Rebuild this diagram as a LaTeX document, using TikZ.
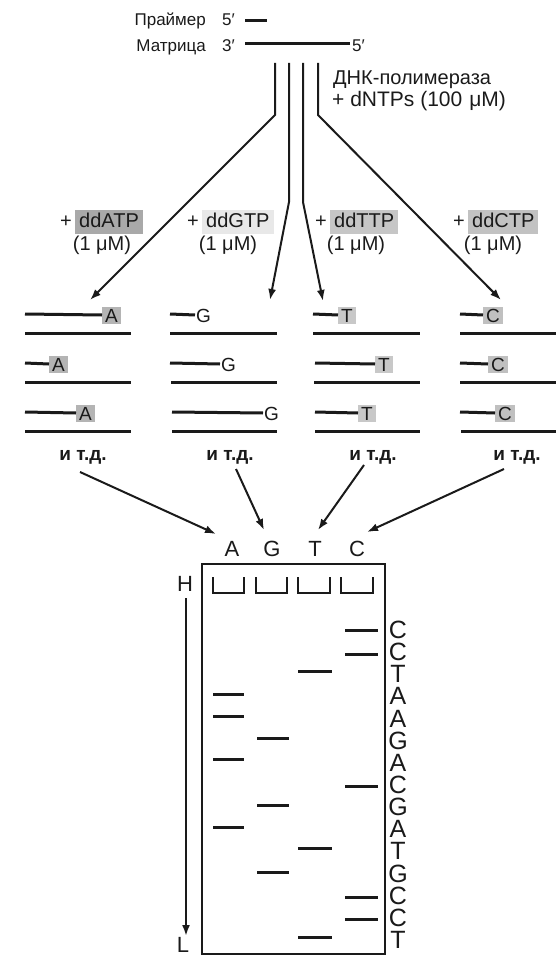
\documentclass[tikz,border=0pt]{standalone}
\usepackage{fontspec}
\setmainfont{Liberation Sans}
\usetikzlibrary{arrows.meta}
\definecolor{hlA}{HTML}{A9A9A9}
\definecolor{hlG}{HTML}{E8E8E8}
\definecolor{hlT}{HTML}{C6C6C6}
\definecolor{hlC}{HTML}{C2C2C2}
\definecolor{bxA}{HTML}{B4B4B4}
\definecolor{bxT}{HTML}{C8C8C8}
\definecolor{bxC}{HTML}{C0C0C0}
\definecolor{ink}{HTML}{1A1A1A}
\newcommand\myfs[1]{\fontsize{#1}{#1}\selectfont}
\begin{document}
\begin{tikzpicture}[x=1pt,y=-1pt,
  every node/.style={inner sep=0pt,text=ink},
  strand/.style={line width=3pt,ink},
  arr/.style={line width=2pt,ink,line join=miter,-{Latex[length=11pt,width=8pt]}},
  toptxt/.style={font=\myfs{17}},
  labtxt/.style={font=\myfs{20}},
  ddbox/.style={font=\myfs{20},inner xsep=4pt,inner ysep=3pt,text height=15pt,text depth=3pt},
  letbox/.style={font=\myfs{19},anchor=west,inner xsep=3pt,inner ysep=1.5pt,text height=14pt,text depth=0pt},
  etc/.style={font=\myfs{19}\bfseries,anchor=base},
  gellet/.style={font=\myfs{22},anchor=base},
  seqlet/.style={font=\myfs{25},text height=17pt,text depth=0pt},
  band/.style={line width=3pt,ink},
  well/.style={line width=1.8pt,ink}
]
\useasboundingbox (0,0) rectangle (556,957);

% ---- primer / template ----
\node[toptxt,anchor=base east] (primlbl) at (206,26) {Праймер};
\node[toptxt,anchor=base west] (prim5) at (222,26) {5′};
\coordinate (pa) at (245,21);
\coordinate (pb) at (267,21);
\draw[strand] (pa) -- (pb);
\node[toptxt,anchor=base east] (matlbl) at (206,51.5) {Матрица};
\node[toptxt,anchor=base west] (mat3) at (222,51.5) {3′};
\coordinate (ma) at (245,44);
\node[toptxt,anchor=base west] (mat5) at (352,51.5) {5′};
\draw[strand] (ma) -- ([xshift=-2pt]mat5.west |- ma);

\node[font=\myfs{20},anchor=base west] (pol1) at (333,85) {ДНК-полимераза};
\node[font=\myfs{21},anchor=base west] (pol2) at (332,107) {+ dNTPs (100\,\,μM)};

% ---- four branches ----
\coordinate (s1) at (275,63); \coordinate (b1) at (275,115); \coordinate (e1) at (90,300);
\coordinate (s2) at (289,63); \coordinate (b2) at (289,202); \coordinate (e2) at (270,300);
\coordinate (s3) at (303,63); \coordinate (b3) at (303,202); \coordinate (e3) at (323,301);
\coordinate (s4) at (318,63); \coordinate (b4) at (318,115); \coordinate (e4) at (501,300);
\draw[arr] (s1) -- (b1) -- (e1);
\draw[arr] (s2) -- (b2) -- (e2);
\draw[arr] (s3) -- (b3) -- (e3);
\draw[arr] (s4) -- (b4) -- (e4);

% ---- ddNTP labels ----
\node[ddbox,fill=hlA,anchor=base west] (ddA) at (75,228) {ddATP};
\node[labtxt,anchor=base east] (plA) at ([xshift=-3pt]ddA.base west) {+};
\node[labtxt,anchor=base] (cA) at (102,251) {(1 μM)};
\node[ddbox,fill=hlG,anchor=base west] (ddG) at (202,228) {ddGTP};
\node[labtxt,anchor=base east] (plG) at ([xshift=-3pt]ddG.base west) {+};
\node[labtxt,anchor=base] (cG) at (228,251) {(1 μM)};
\node[ddbox,fill=hlT,anchor=base west] (ddT) at (330,228) {ddTTP};
\node[labtxt,anchor=base east] (plT) at ([xshift=-3pt]ddT.base west) {+};
\node[labtxt,anchor=base] (cT) at (356,251) {(1 μM)};
\node[ddbox,fill=hlC,anchor=base west] (ddC) at (468,228) {ddCTP};
\node[labtxt,anchor=base east] (plC) at ([xshift=-3pt]ddC.base west) {+};
\node[labtxt,anchor=base] (cC) at (493,251) {(1 μM)};

% ---- strand group A ----
\node[letbox,fill=bxA] (A1) at (102,315) {A};
\node[letbox,fill=bxA] (A2) at (49,364) {A};
\node[letbox,fill=bxA] (A3) at (76,413) {A};
\coordinate (A1s) at (25,314); \coordinate (A2s) at (25,363); \coordinate (A3s) at (25,412);
\draw[strand] (A1s) -- (A1.west);
\draw[strand] (A2s) -- (A2.west);
\draw[strand] (A3s) -- (A3.west);
\draw[strand] (25,333) -- (131,333);
\draw[strand] (25,382) -- (131,382);
\draw[strand] (25,431) -- (131,431);
\node[etc] (etcA) at (83,460) {и т.д.};

% ---- strand group G ----
\node[letbox,inner xsep=1pt] (G1) at (195,315) {G};
\node[letbox,inner xsep=1pt] (G2) at (220,364) {G};
\node[letbox,inner xsep=1pt] (G3) at (263,413) {G};
\coordinate (G1s) at (170,314); \coordinate (G2s) at (170,363); \coordinate (G3s) at (172,412);
\draw[strand] (G1s) -- (G1.west);
\draw[strand] (G2s) -- (G2.west);
\draw[strand] (G3s) -- (G3.west);
\draw[strand] (170,333) -- (277,333);
\draw[strand] (171,382) -- (277,382);
\draw[strand] (172,431) -- (277,431);
\node[etc] (etcG) at (230,460) {и т.д.};

% ---- strand group T ----
\node[letbox,fill=bxT] (T1) at (338,315) {T};
\node[letbox,fill=bxT] (T2) at (375,364) {T};
\node[letbox,fill=bxT] (T3) at (358,413) {T};
\coordinate (T1s) at (313,314); \coordinate (T2s) at (315,363); \coordinate (T3s) at (315,412);
\draw[strand] (T1s) -- (T1.west);
\draw[strand] (T2s) -- (T2.west);
\draw[strand] (T3s) -- (T3.west);
\draw[strand] (313,333) -- (420,333);
\draw[strand] (314,382) -- (420,382);
\draw[strand] (315,431) -- (420,431);
\node[etc] (etcT) at (373,460) {и т.д.};

% ---- strand group C ----
\node[letbox,fill=bxC] (C1) at (483,315) {C};
\node[letbox,fill=bxC] (C2) at (488,364) {C};
\node[letbox,fill=bxC] (C3) at (495,413) {C};
\coordinate (C1s) at (460,314); \coordinate (C2s) at (460,363); \coordinate (C3s) at (460,412);
\draw[strand] (C1s) -- (C1.west);
\draw[strand] (C2s) -- (C2.west);
\draw[strand] (C3s) -- (C3.west);
\draw[strand] (460,333) -- (556,333);
\draw[strand] (460,382) -- (556,382);
\draw[strand] (461,431) -- (556,431);
\node[etc] (etcC) at (517,460) {и т.д.};

% ---- gel letters and arrows ----
\node[gellet] (gA) at (232,556) {A};
\node[gellet] (gG) at (272,556) {G};
\node[gellet] (gT) at (315,556) {T};
\node[gellet] (gC) at (357,556) {C};
\coordinate (fA) at (80,472);  \coordinate (tA) at (216,534);
\coordinate (fG) at (236,469); \coordinate (tG) at (264,530);
\coordinate (fT) at (364,465); \coordinate (tT) at (318,530);
\coordinate (fC) at (504,469); \coordinate (tC) at (367,532);
\draw[arr] (fA) -- (tA);
\draw[arr] (fG) -- (tG);
\draw[arr] (fT) -- (tT);
\draw[arr] (fC) -- (tC);

% ---- gel ----
\node[draw=ink,line width=2pt,minimum width=183pt,minimum height=390pt,anchor=north west] (gel) at (201,563) {};
\foreach \xa/\xb in {213/244,256/287,298/330,341/373}{
  \draw[well] (\xa,577) -- (\xa,593) -- (\xb,593) -- (\xb,577);
}
\node[font=\myfs{22}] (H) at (185,584) {H};
\node[font=\myfs{22}] (L) at (183,945) {L};
\coordinate (hl1) at (186,598);
\coordinate (hl2) at (186,936);
\draw[arr] (hl1) -- (hl2);

% bands
\foreach \y in {694,716,759,827}{ \draw[band] (213,\y) -- (244,\y); }
\foreach \y in {738,805,872}{ \draw[band] (257,\y) -- (289,\y); }
\foreach \y in {671,848,937}{ \draw[band] (298,\y) -- (332,\y); }
\foreach \y in {630,654,786,897,919}{ \draw[band] (345,\y) -- (378,\y); }

% sequence
\foreach \l [count=\i from 0] in {C,C,T,A,A,G,A,C,G,A,T,G,C,C,T}{
  \node[seqlet] (q\i) at (398,{630+\i*22.14}) {\l};
}
\end{tikzpicture}
\end{document}
